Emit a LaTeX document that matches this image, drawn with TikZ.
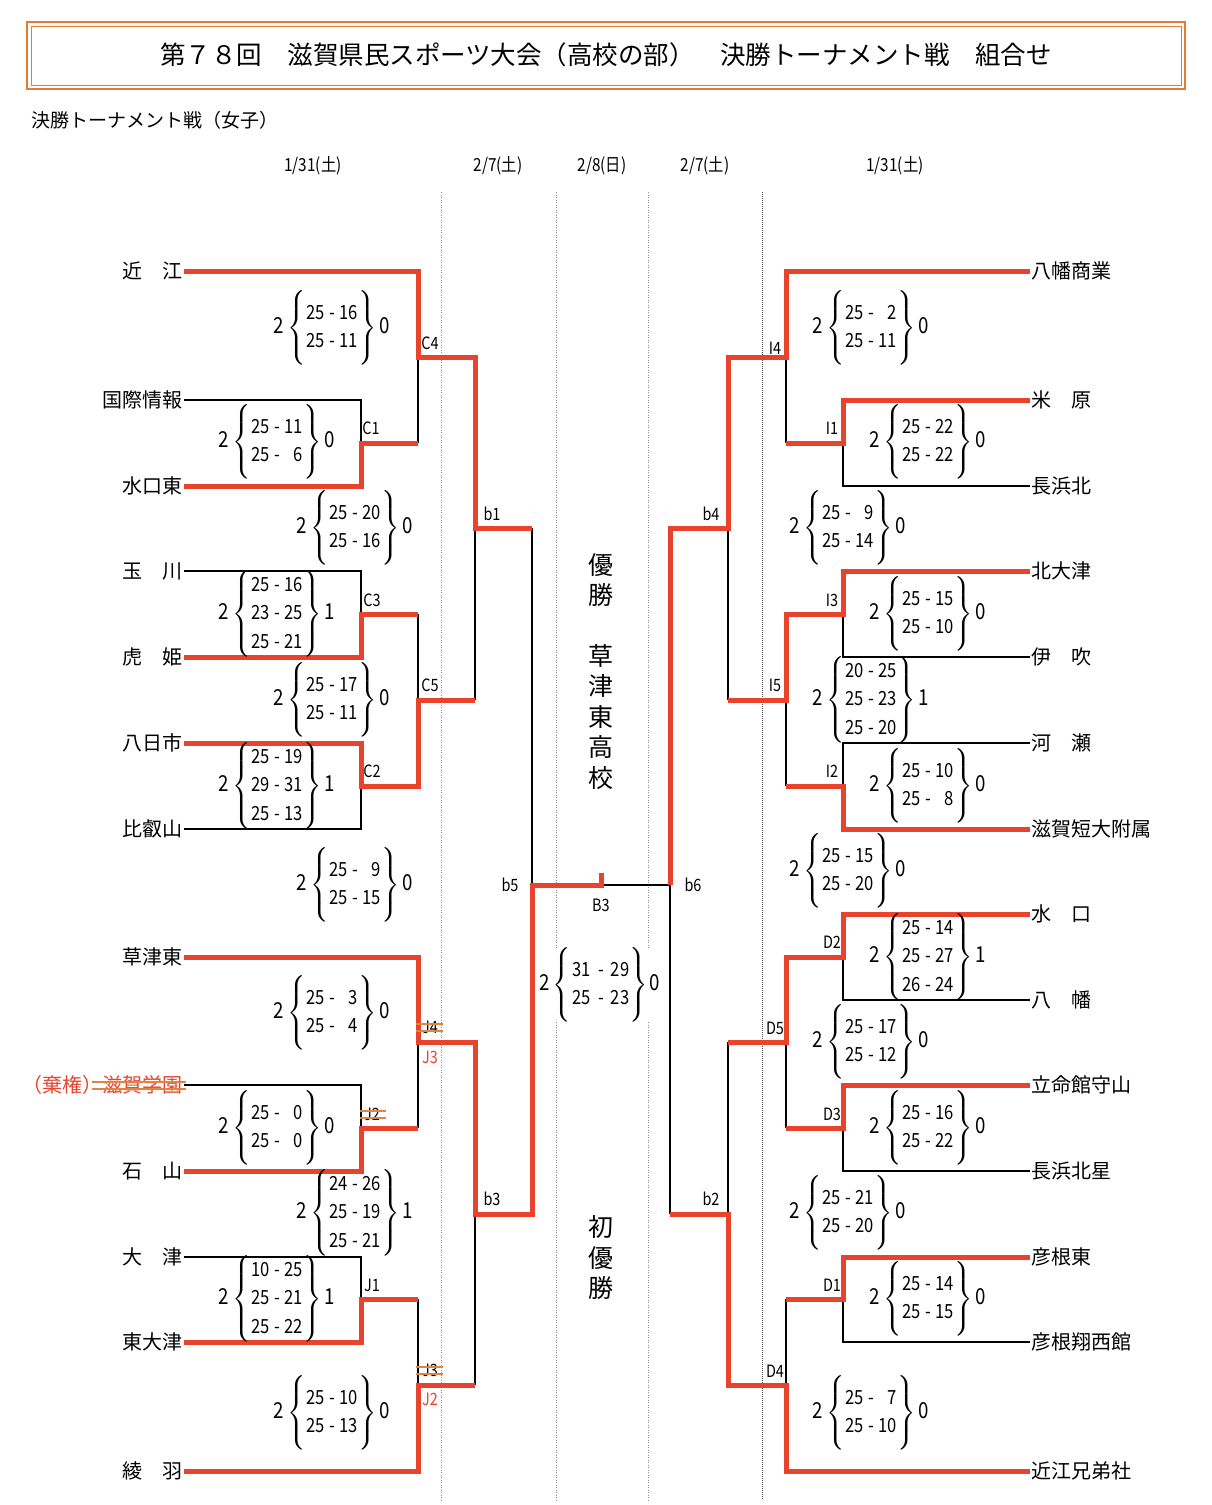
\documentclass[tikz,border=0pt]{standalone}
\usepackage{amsmath}
\usepackage{fontspec}
\setmainfont{Noto Sans CJK JP}
\newfontfamily\numfont[FakeStretch=0.85]{Noto Sans CJK JP}
\usetikzlibrary{calc}
\definecolor{winred}{HTML}{E8432D}
\definecolor{boxorange}{HTML}{E57A35}
\definecolor{strikeorange}{HTML}{E0843F}
\definecolor{dotgray}{HTML}{8C8C8C}
\newcommand{\widespace}{\spaceskip=4.5pt\relax}
\tikzset{
  lose/.style={draw=black, line width=2pt},
  win/.style={draw=winred, line width=5pt, line join=miter},
  guide/.style={draw=dotgray, line width=1pt, dash pattern=on 1pt off 1.5pt},
  strk/.style={draw=strikeorange, line width=1.6pt},
  team/.style={font=\fontsize{20}{20}\selectfont, inner sep=1pt},
  lteam/.style={team, anchor=east},
  rteam/.style={team, anchor=west},
  mtag/.style={font=\numfont\fontsize{17}{17}\selectfont, inner sep=0pt},
  datelab/.style={font=\numfont\fontsize{18}{18}\selectfont, inner sep=0pt},
  scr/.style={font=\numfont\fontsize{19.5}{28.5}\selectfont\widespace, inner sep=0pt},
  vtext/.style={font=\fontsize{25}{30.5}\selectfont, align=center, inner sep=0pt},
  headline/.style={font=\fontsize{25.5}{26}\selectfont, inner sep=0pt},
  subhead/.style={font=\fontsize{19}{19}\selectfont, inner sep=0pt},
}
\newcommand{\scorebox}[5]{%
  \node[scr] (#1) at (#2) {{\fontsize{22}{22}\selectfont #4}\hspace{3.5pt}$\left\{\rule[-30.5pt]{0pt}{70pt}\begin{tabular}{@{\hspace{0.5pt}}c@{\hspace{0pt}}}#3\end{tabular}\right\}$\hspace{3.5pt}{\fontsize{22}{22}\selectfont #5}};}

\begin{document}
\begin{tikzpicture}[x=1pt, y=-1pt]
  \useasboundingbox (0,0) rectangle (1212,1505);
  % title
  \draw[boxorange, line width=2pt] (27,22) rectangle (1185,89);
  \draw[boxorange, line width=0.8pt] (31,26) rectangle (1181,85);
  \node[headline] (title) at (606,55) {第７８回　滋賀県民スポーツ大会（高校の部）　決勝トーナメント戦　組合せ};
  \node[subhead, anchor=west] (subtitle) at (31,120) {決勝トーナメント戦（女子）};
  % dates
  \node[datelab] (d1) at (313,166) {1/31(土)};
  \node[datelab] (d2) at (498,166) {2/7(土)};
  \node[datelab] (d3) at (602,166) {2/8(日)};
  \node[datelab] (d4) at (705,166) {2/7(土)};
  \node[datelab] (d5) at (895,166) {1/31(土)};
  % dotted guides
  \draw[guide] (441,192) -- (441,1500);
  \draw[guide] (556,192) -- (556,1500);
  \draw[guide] (648,192) -- (648,1500);
  \draw[guide, draw=black!70, dash pattern=on 1pt off 1pt] (762,192) -- (762,1500);
  % final score, over the guides
  \node[scr, fill=white, inner sep=0pt] (sB3) at (600,985) {{\fontsize{22}{22}\selectfont 2}\hspace{2pt}$\left\{\rule[-30.5pt]{0pt}{70pt}\begin{tabular}{@{\hspace{2pt}}c@{\hspace{0pt}}}31\hspace{7pt}-\hspace{7pt}29\\25\hspace{7pt}-\hspace{7pt}23\end{tabular}\right\}$\hspace{2pt}{\fontsize{22}{22}\selectfont 0}};

  % junctions, left
  \coordinate (C1) at (361,443);
  \coordinate (C3) at (361,614);
  \coordinate (C2) at (361,786);
  \coordinate (Ja) at (361,1128);
  \coordinate (J1) at (361,1299);
  \coordinate (C4) at (418,357);
  \coordinate (C5) at (418,700);
  \coordinate (Jb) at (418,1042);
  \coordinate (Jc) at (418,1385);
  \coordinate (b1) at (475,528);
  \coordinate (b3) at (475,1214);
  \coordinate (b5) at (532,885);
  \coordinate (B3) at (601,885);
  % junctions, right
  \coordinate (I1) at (843,443);
  \coordinate (I3) at (843,614);
  \coordinate (I2) at (843,786);
  \coordinate (D2) at (843,957);
  \coordinate (D3) at (843,1128);
  \coordinate (D1) at (843,1299);
  \coordinate (I4) at (786,357);
  \coordinate (I5) at (786,700);
  \coordinate (D5) at (786,1042);
  \coordinate (D4) at (786,1385);
  \coordinate (b4) at (728,528);
  \coordinate (b2) at (728,1214);
  \coordinate (b6) at (670,885);

  % teams, left
  \node[lteam] (oumi) at (184,271) {近　江};
  \node[lteam] (kokusai) at (184,400) {国際情報};
  \node[lteam] (minakuchihigashi) at (184,486) {水口東};
  \node[lteam] (tamagawa) at (184,571) {玉　川};
  \node[lteam] (torahime) at (184,657) {虎　姫};
  \node[lteam] (youkaichi) at (184,743) {八日市};
  \node[lteam] (hieizan) at (184,829) {比叡山};
  \node[lteam] (kusatsuhigashi) at (184,957) {草津東};
  \node[lteam, text=winred] (gakuen) at (184,1085) {（棄権）滋賀学園};
  \node[lteam] (ishiyama) at (184,1171) {石　山};
  \node[lteam] (ootsu) at (184,1257) {大　津};
  \node[lteam] (higashiootsu) at (184,1342) {東大津};
  \node[lteam] (ayaha) at (184,1471) {綾　羽};
  % teams, right
  \node[rteam] (hachishou) at (1030,271) {八幡商業};
  \node[rteam] (maibara) at (1030,400) {米　原};
  \node[rteam] (nagahamakita) at (1030,486) {長浜北};
  \node[rteam] (kitaootsu) at (1030,571) {北大津};
  \node[rteam] (ibuki) at (1030,657) {伊　吹};
  \node[rteam] (kawase) at (1030,743) {河　瀬};
  \node[rteam] (tandai) at (1030,829) {滋賀短大附属};
  \node[rteam] (minakuchi) at (1030,914) {水　口};
  \node[rteam] (hachiman) at (1030,1000) {八　幡};
  \node[rteam] (ritsumei) at (1030,1085) {立命館守山};
  \node[rteam] (hoshi) at (1030,1171) {長浜北星};
  \node[rteam] (hikonehigashi) at (1030,1257) {彦根東};
  \node[rteam] (shouseikan) at (1030,1342) {彦根翔西館};
  \node[rteam] (kyoudai) at (1030,1471) {近江兄弟社};

  % losing lines
  \draw[lose] (kokusai.east) -| (C1);
  \draw[lose] (tamagawa.east) -| (C3);
  \draw[lose] (hieizan.east) -| (C2);
  \draw[lose] (gakuen.east) -| (Ja);
  \draw[lose] (ootsu.east) -| (J1);
  \draw[lose] (C1 -| C4) -- (C4);
  \draw[lose] (C3 -| C5) -- (C5);
  \draw[lose] (Ja -| Jb) -- (Jb);
  \draw[lose] (J1 -| Jc) -- (Jc);
  \draw[lose] (C5 -| b1) -- (b1);
  \draw[lose] (Jc -| b3) -- (b3);
  \draw[lose] (b1 -| b5) -- (b5);
  \draw[lose] (B3) -- (b6);
  \draw[lose] (nagahamakita.west) -| (I1);
  \draw[lose] (ibuki.west) -| (I3);
  \draw[lose] (kawase.west) -| (I2);
  \draw[lose] (hachiman.west) -| (D2);
  \draw[lose] (hoshi.west) -| (D3);
  \draw[lose] (shouseikan.west) -| (D1);
  \draw[lose] (I1 -| I4) -- (I4);
  \draw[lose] (I2 -| I5) -- (I5);
  \draw[lose] (D3 -| D5) -- (D5);
  \draw[lose] (D1 -| D4) -- (D4);
  \draw[lose] (I5 -| b4) -- (b4);
  \draw[lose] (D5 -| b2) -- (b2);
  \draw[lose] (b2 -| b6) -- (b6);

  % winning lines
  \draw[win] (oumi.east) -| (C4) -| (b1) -- (b1 -| b5);
  \draw[win] (minakuchihigashi.east) -| (C1) -- (C1 -| C4);
  \draw[win] (torahime.east) -| (C3) -- (C3 -| C5);
  \draw[win] (youkaichi.east) -| (C2) -| (C5) -- (C5 -| b1);
  \draw[win] (kusatsuhigashi.east) -| (Jb) -| (b3) -| (b5) -- (B3) -- ++(0,-12);
  \draw[win] (ishiyama.east) -| (Ja) -- (Ja -| Jb);
  \draw[win] (higashiootsu.east) -| (J1) -- (J1 -| Jc);
  \draw[win] (ayaha.east) -| (Jc) -- (Jc -| b3);
  \draw[win] (hachishou.west) -| (I4) -| (b4) -| (b6);
  \draw[win] (maibara.west) -| (I1) -- (I1 -| I4);
  \draw[win] (kitaootsu.west) -| (I3) -| (I5) -- (I5 -| b4);
  \draw[win] (tandai.west) -| (I2) -- (I2 -| I5);
  \draw[win] (minakuchi.west) -| (D2) -| (D5) -- (D5 -| b2);
  \draw[win] (ritsumei.west) -| (D3) -- (D3 -| D5);
  \draw[win] (hikonehigashi.west) -| (D1) -- (D1 -| D4);
  \draw[win] (kyoudai.west) -| (D4) -| (b2) -- (b2 -| b6);

  % match tags
  \node[mtag] (tC4) at (430,343) {C4};
  \node[mtag] (tC1) at (371,428) {C1};
  \node[mtag] (tb1) at (492,514) {b1};
  \node[mtag] (tC3) at (372,600) {C3};
  \node[mtag] (tC5) at (430,685) {C5};
  \node[mtag] (tC2) at (372,771) {C2};
  \node[mtag] (tb5) at (510,885) {b5};
  \node[mtag] (tB3) at (601,905) {B3};
  \node[mtag] (tJ4) at (430,1027) {J4};
  \node[mtag, text=winred] (tJ3) at (430,1057) {J3};
  \node[mtag] (tJ2x) at (372,1114) {J2};
  \node[mtag] (tb3) at (492,1199) {b3};
  \node[mtag] (tJ1) at (372,1285) {J1};
  \node[mtag] (tJ3x) at (430,1370) {J3};
  \node[mtag, text=winred] (tJ2) at (430,1399) {J2};
  \node[mtag] (tI4) at (775,348) {I4};
  \node[mtag] (tI1) at (832,428) {I1};
  \node[mtag] (tb4) at (711,514) {b4};
  \node[mtag] (tI3) at (832,600) {I3};
  \node[mtag] (tI5) at (775,685) {I5};
  \node[mtag] (tI2) at (832,771) {I2};
  \node[mtag] (tb6) at (693,885) {b6};
  \node[mtag] (tD2) at (832,942) {D2};
  \node[mtag] (tD5) at (775,1028) {D5};
  \node[mtag] (tD3) at (832,1114) {D3};
  \node[mtag] (tb2) at (711,1199) {b2};
  \node[mtag] (tD1) at (832,1285) {D1};
  \node[mtag] (tD4) at (775,1371) {D4};
  % struck out
  \draw[strk] (416,1024) -- (443,1024) (416,1031) -- (443,1031);
  \draw[strk] (360,1111) -- (386,1111) (360,1118) -- (386,1118);
  \draw[strk] (416,1367) -- (443,1367) (416,1374) -- (443,1374);
  \draw[strk] (92,1082) -- (186,1082) (92,1089) -- (186,1089);

  % scores, left
  \scorebox{sC4}{332,328}{25 - 16\\25 - 11}{2}{0}
  \scorebox{sC1}{277,442}{25 - 11\\25 - \phantom{1}6}{2}{0}
  \scorebox{sb1}{355,528}{25 - 20\\25 - 16}{2}{0}
  \scorebox{sC3}{277,614}{25 - 16\\23 - 25\\25 - 21}{2}{1}
  \scorebox{sC5}{332,700}{25 - 17\\25 - 11}{2}{0}
  \scorebox{sC2}{277,786}{25 - 19\\29 - 31\\25 - 13}{2}{1}
  \scorebox{sb5}{355,885}{25 - \phantom{1}9\\25 - 15}{2}{0}
  \scorebox{sJb}{332,1013}{25 - \phantom{1}3\\25 - \phantom{1}4}{2}{0}
  \scorebox{sJa}{277,1128}{25 - \phantom{1}0\\25 - \phantom{1}0}{2}{0}
  \scorebox{sb3}{355,1213}{24 - 26\\25 - 19\\25 - 21}{2}{1}
  \scorebox{sJ1}{277,1299}{10 - 25\\25 - 21\\25 - 22}{2}{1}
  \scorebox{sJc}{332,1413}{25 - 10\\25 - 13}{2}{0}
  % scores, right
  \scorebox{sI4}{871,328}{25 - \phantom{1}2\\25 - 11}{2}{0}
  \scorebox{sI1}{928,442}{25 - 22\\25 - 22}{2}{0}
  \scorebox{sb4}{848,528}{25 - \phantom{1}9\\25 - 14}{2}{0}
  \scorebox{sI3}{928,614}{25 - 15\\25 - 10}{2}{0}
  \scorebox{sI5}{871,700}{20 - 25\\25 - 23\\25 - 20}{2}{1}
  \scorebox{sI2}{928,786}{25 - 10\\25 - \phantom{1}8}{2}{0}
  \scorebox{sb6}{848,871}{25 - 15\\25 - 20}{2}{0}
  \scorebox{sD2}{928,957}{25 - 14\\25 - 27\\26 - 24}{2}{1}
  \scorebox{sD5}{871,1042}{25 - 17\\25 - 12}{2}{0}
  \scorebox{sD3}{928,1128}{25 - 16\\25 - 22}{2}{0}
  \scorebox{sb2}{848,1213}{25 - 21\\25 - 20}{2}{0}
  \scorebox{sD1}{928,1299}{25 - 14\\25 - 15}{2}{0}
  \scorebox{sD4}{871,1413}{25 - \phantom{1}7\\25 - 10}{2}{0}

  % champion
  \node[vtext] (yusho) at (601,580) {優\\勝};
  \node[vtext] (champ) at (601,717) {草\\津\\東\\高\\校};
  \node[vtext] (first) at (601,1258) {初\\優\\勝};
\end{tikzpicture}
\end{document}
